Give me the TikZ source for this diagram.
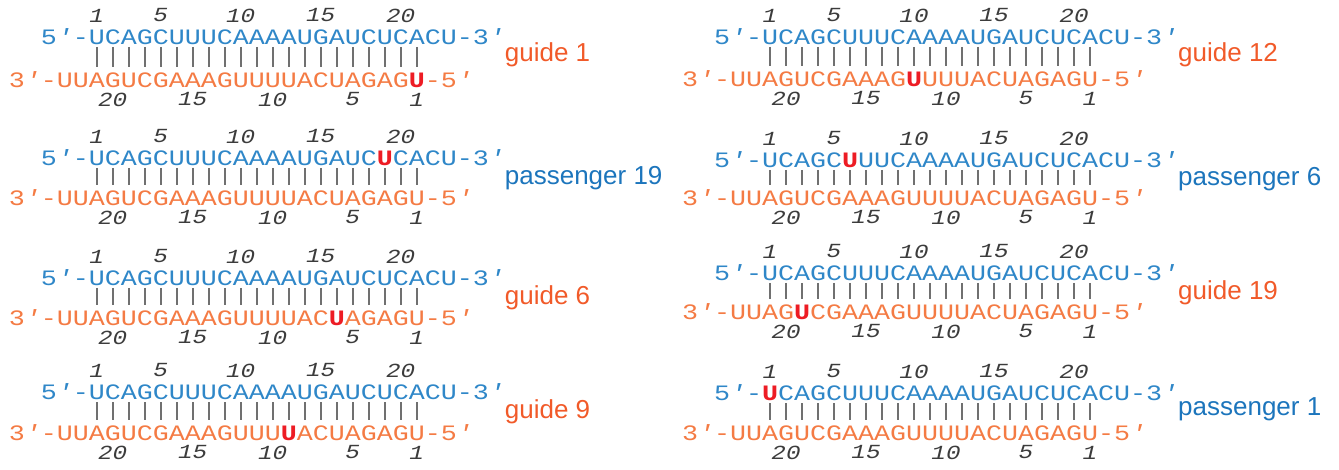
\documentclass[tikz,border=0pt]{standalone}
\usepackage{fontspec}
\setmainfont{Liberation Sans}
\newfontfamily\seqfont[FakeStretch=1.2121]{Liberation Mono}
\definecolor{strandblue}{HTML}{2F87C8}
\definecolor{strandorange}{HTML}{F47B44}
\definecolor{labelblue}{HTML}{1C75BC}
\definecolor{labelorange}{HTML}{F15A29}
\definecolor{hlred}{HTML}{ED1C24}
\definecolor{numgray}{HTML}{3C3C3C}
\definecolor{bargray}{HTML}{707070}
\newcommand\hu{{\color{hlred}\bfseries U}}
\newcommand\pr{{\itshape '}}
\tikzset{
  topseq/.style={anchor=base west, inner sep=0pt, text=strandblue, font=\seqfont\fontsize{22}{22}\selectfont},
  botseq/.style={anchor=base west, inner sep=0pt, text=strandorange, font=\seqfont\fontsize{22}{22}\selectfont},
  num/.style={anchor=center, inner sep=0pt, text=numgray, font=\seqfont\itshape\fontsize{20}{20}\selectfont},
  pair/.style={draw=bargray, line width=1.6pt},
  lab/.style={anchor=base west, inner sep=0pt, font=\fontsize{26}{26}\selectfont}
}
% #1 name, #2 x0, #3 top centre y, #4 bottom centre y, #5 top seq, #6 bottom seq, #7 label, #8 label colour, #9 label baseline
\newcommand\duplex[9]{%
  \node[topseq] (#1t) at ({#2},{#3+7.25}) {#5};
  \node[botseq] (#1b) at ({#2-32},{#4+7.25}) {#6};
  \foreach \i in {0,...,20}{
    \coordinate (#1p\i a) at ({#2+(3.5+\i)*16},{#3+10});
    \coordinate (#1p\i b) at ({#2+(3.5+\i)*16},{#4-13});
    \draw[pair] (#1p\i a) -- (#1p\i b);
  }
  \foreach \n in {1,5,10,15,20}{
    \node[num] (#1tn\n) at ({#2+(2.5+\n)*16},{#3-21.5}) {\n};
    \node[num] (#1bn\n) at ({#2+(26.5-\n)*16-32},{#4+19.5}) {\n};
  }
  \node[lab, text=#8] (#1l) at ({#2+464},{#9}) {#7};
}
\begin{document}
\begin{tikzpicture}[x=1pt,y=-1pt]
\useasboundingbox (0,0) rectangle (1339,470);
\duplex{La}{40.7}{37}{80}{5\pr-UCAGCUUUCAAAAUGAUCUCACU-3\pr}{3\pr-UUAGUCGAAAGUUUUACUAGAG\hu-5\pr}{guide 1}{labelorange}{62}
\duplex{Lb}{40.7}{158}{198}{5\pr-UCAGCUUUCAAAAUGAUC\hu CACU-3\pr}{3\pr-UUAGUCGAAAGUUUUACUAGAGU-5\pr}{passenger 19}{labelblue}{185}
\duplex{Lc}{40.7}{278}{318}{5\pr-UCAGCUUUCAAAAUGAUCUCACU-3\pr}{3\pr-UUAGUCGAAAGUUUUAC\hu AGAGU-5\pr}{guide 6}{labelorange}{305}
\duplex{Ld}{40.7}{392}{433}{5\pr-UCAGCUUUCAAAAUGAUCUCACU-3\pr}{3\pr-UUAGUCGAAAGUUU\hu ACUAGAGU-5\pr}{guide 9}{labelorange}{418}
\duplex{Ra}{714}{37}{79}{5\pr-UCAGCUUUCAAAAUGAUCUCACU-3\pr}{3\pr-UUAGUCGAAAG\hu UUUACUAGAGU-5\pr}{guide 12}{labelorange}{62}
\duplex{Rb}{714}{160}{198}{5\pr-UCAGC\hu UUCAAAAUGAUCUCACU-3\pr}{3\pr-UUAGUCGAAAGUUUUACUAGAGU-5\pr}{passenger 6}{labelblue}{186}
\duplex{Rc}{714}{273}{312}{5\pr-UCAGCUUUCAAAAUGAUCUCACU-3\pr}{3\pr-UUAG\hu CGAAAGUUUUACUAGAGU-5\pr}{guide 19}{labelorange}{300}
\duplex{Rd}{714}{393}{433}{5\pr-\hu CAGCUUUCAAAAUGAUCUCACU-3\pr}{3\pr-UUAGUCGAAAGUUUUACUAGAGU-5\pr}{passenger 1}{labelblue}{415}
\end{tikzpicture}
\end{document}
